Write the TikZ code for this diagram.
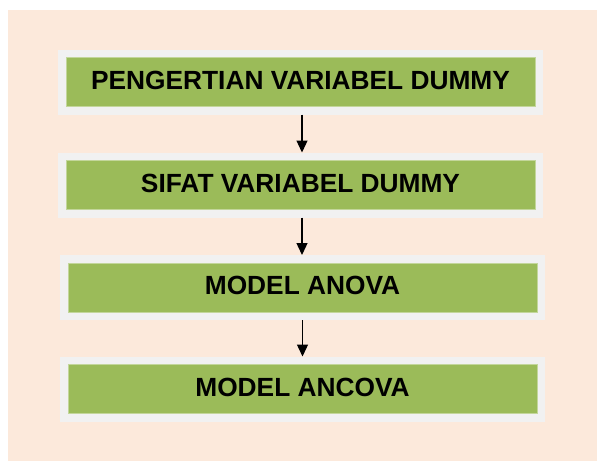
\documentclass[tikz,border=0pt]{standalone}
\usepackage{fontspec}
\setmainfont{Liberation Sans}
\usetikzlibrary{arrows.meta,backgrounds}

\definecolor{peach}{HTML}{FCE9DB}
\definecolor{framegray}{HTML}{F1F1F1}
\definecolor{boxgreen}{HTML}{9BBB59}
\definecolor{edgegreen}{HTML}{C3D69B}

\tikzset{
  stagebox/.style={fill=boxgreen, draw=edgegreen, line width=0.8pt,
    minimum width=469pt, minimum height=49pt, inner sep=0pt,
    outer sep=8pt, font=\fontsize{26.3}{30}\selectfont\bfseries},
  flow/.style={line width=1.3pt, -{Triangle[width=11pt,length=12pt]}},
}
% lift the caption a little above the box centre
\newcommand{\stagetext}[1]{\raisebox{4pt}{#1}}

\begin{document}
\begin{tikzpicture}[x=1pt,y=-1pt]
  \useasboundingbox (0,0) rectangle (597,461);

  \node[stagebox] (b1) at (300.5,82)  {\stagetext{PENGERTIAN VARIABEL DUMMY}};
  \node[stagebox] (b2) at (300.5,185) {\stagetext{SIFAT VARIABEL DUMMY}};
  \node[stagebox] (b3) at (302.5,287.5) {\stagetext{MODEL ANOVA}};
  \node[stagebox] (b4) at (302.5,389) {\stagetext{MODEL ANCOVA}};

  \begin{scope}[on background layer]
    \fill[peach] (8,10) rectangle (597,461);
    \foreach \b in {b1,b2,b3,b4}
      \fill[framegray] (\b.north west) rectangle (\b.south east);
  \end{scope}

  \draw[flow] ([xshift=1.5pt]b1.south) -- ([xshift=1.5pt]b1.south |- b2.north);
  \draw[flow] ([xshift=1.5pt]b2.south) -- ([xshift=1.5pt]b2.south |- b3.north);
  \draw[flow] (b3.south) -- (b4.north);
\end{tikzpicture}
\end{document}
